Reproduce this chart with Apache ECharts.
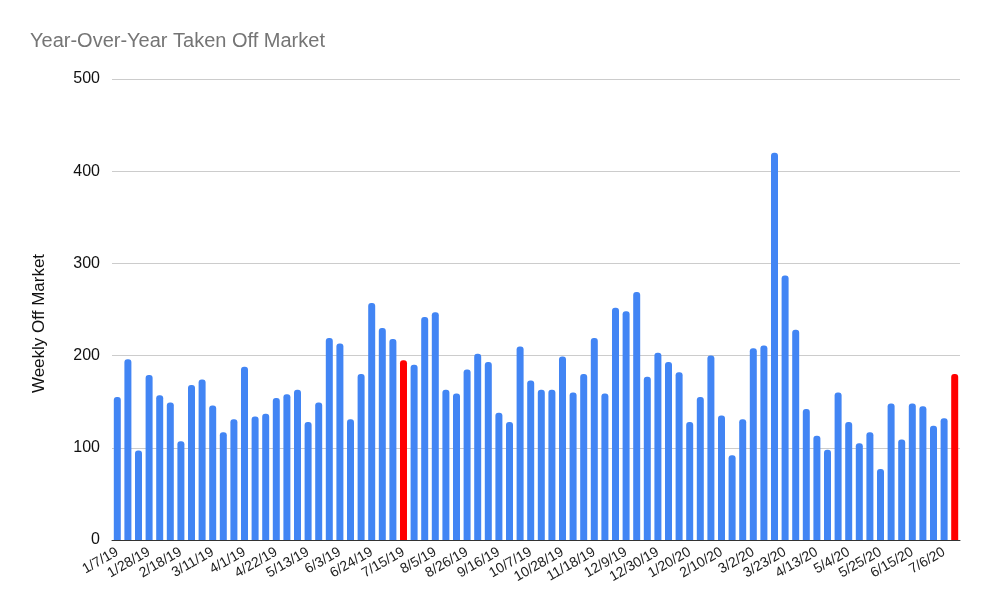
<!DOCTYPE html>
<html>
<head>
<meta charset="utf-8">
<script src="https://cdn.jsdelivr.net/npm/echarts@6/dist/echarts.min.js"></script>
<style>
  html, body { margin: 0; padding: 0; background: #fff; }
  #chart { width: 990px; height: 612px; }
</style>
</head>
<body>
<div id="chart"></div>
<script>
// weekly dates, starting 1/7/19
const weeks = [
  '1/7/19', '1/14/19', '1/21/19', '1/28/19', '2/4/19', '2/11/19', '2/18/19', '2/25/19', '3/4/19', '3/11/19',
  '3/18/19', '3/25/19', '4/1/19', '4/8/19', '4/15/19', '4/22/19', '4/29/19', '5/6/19', '5/13/19', '5/20/19',
  '5/27/19', '6/3/19', '6/10/19', '6/17/19', '6/24/19', '7/1/19', '7/8/19', '7/15/19', '7/22/19', '7/29/19',
  '8/5/19', '8/12/19', '8/19/19', '8/26/19', '9/2/19', '9/9/19', '9/16/19', '9/23/19', '9/30/19', '10/7/19',
  '10/14/19', '10/21/19', '10/28/19', '11/4/19', '11/11/19', '11/18/19', '11/25/19', '12/2/19', '12/9/19', '12/16/19',
  '12/23/19', '12/30/19', '1/6/20', '1/13/20', '1/20/20', '1/27/20', '2/3/20', '2/10/20', '2/17/20', '2/24/20',
  '3/2/20', '3/9/20', '3/16/20', '3/23/20', '3/30/20', '4/6/20', '4/13/20', '4/20/20', '4/27/20', '5/4/20',
  '5/11/20', '5/18/20', '5/25/20', '6/1/20', '6/8/20', '6/15/20', '6/22/20', '6/29/20', '7/6/20', '7/13/20'
];

const offMarket = [
  155, 196, 97, 179, 157, 149, 107, 168, 174, 146,
  117, 131, 188, 134, 137, 154, 158, 163, 128, 149,
  219, 213, 131, 180, 257, 230, 218, 195, 190, 242,
  247, 163, 159, 185, 202, 193, 138, 128, 210, 173,
  163, 163, 199, 160, 180, 219, 159, 252, 248, 269,
  177, 203, 193, 182, 128, 155, 200, 135, 92, 131,
  208, 211, 420, 287, 228, 142, 113, 98, 160, 128,
  105, 117, 77, 148, 109, 148, 145, 124, 132, 180
];

// weeks drawn in red
const highlightWeeks = ['7/15/19', '7/13/20'];

const blue = '#4285f4';
const red = '#ff0000';

const barData = offMarket.map((v, i) => ({
  value: v,
  itemStyle: { color: highlightWeeks.includes(weeks[i]) ? red : blue }
}));

const chart = echarts.init(document.getElementById('chart'), null, { renderer: 'canvas' });

const option = {
  animation: false,
  textStyle: { fontFamily: 'Liberation Sans, Arial, sans-serif' },
  title: {
    text: 'Year-Over-Year Taken Off Market',
    left: 25,
    top: 26,
    textStyle: { color: '#757575', fontSize: 20, fontWeight: 'normal' }
  },
  grid: { left: 112, right: 30, top: 79, bottom: 72 },
  xAxis: {
    type: 'category',
    data: weeks,
    axisTick: { show: false },
    axisLine: { lineStyle: { color: '#333', width: 1 } },
    axisLabel: {
      interval: 2,
      rotate: 30,
      color: '#222',
      fontSize: 14,
      margin: 11
    }
  },
  yAxis: {
    type: 'value',
    min: 0,
    max: 500,
    interval: 100,
    name: 'Weekly Off Market',
    nameLocation: 'middle',
    nameGap: 64,
    nameTextStyle: { color: '#111', fontSize: 17, padding: [0, 28, 0, 0] },
    axisLine: { show: false },
    axisTick: { show: false },
    axisLabel: { color: '#111', fontSize: 16, margin: 12 },
    splitLine: { lineStyle: { color: '#cccccc' } }
  },
  series: [{
    type: 'bar',
    data: barData,
    barWidth: '66%',
    itemStyle: { borderRadius: [3, 3, 0, 0] }
  }]
};

chart.setOption(option);
</script>
</body>
</html>
